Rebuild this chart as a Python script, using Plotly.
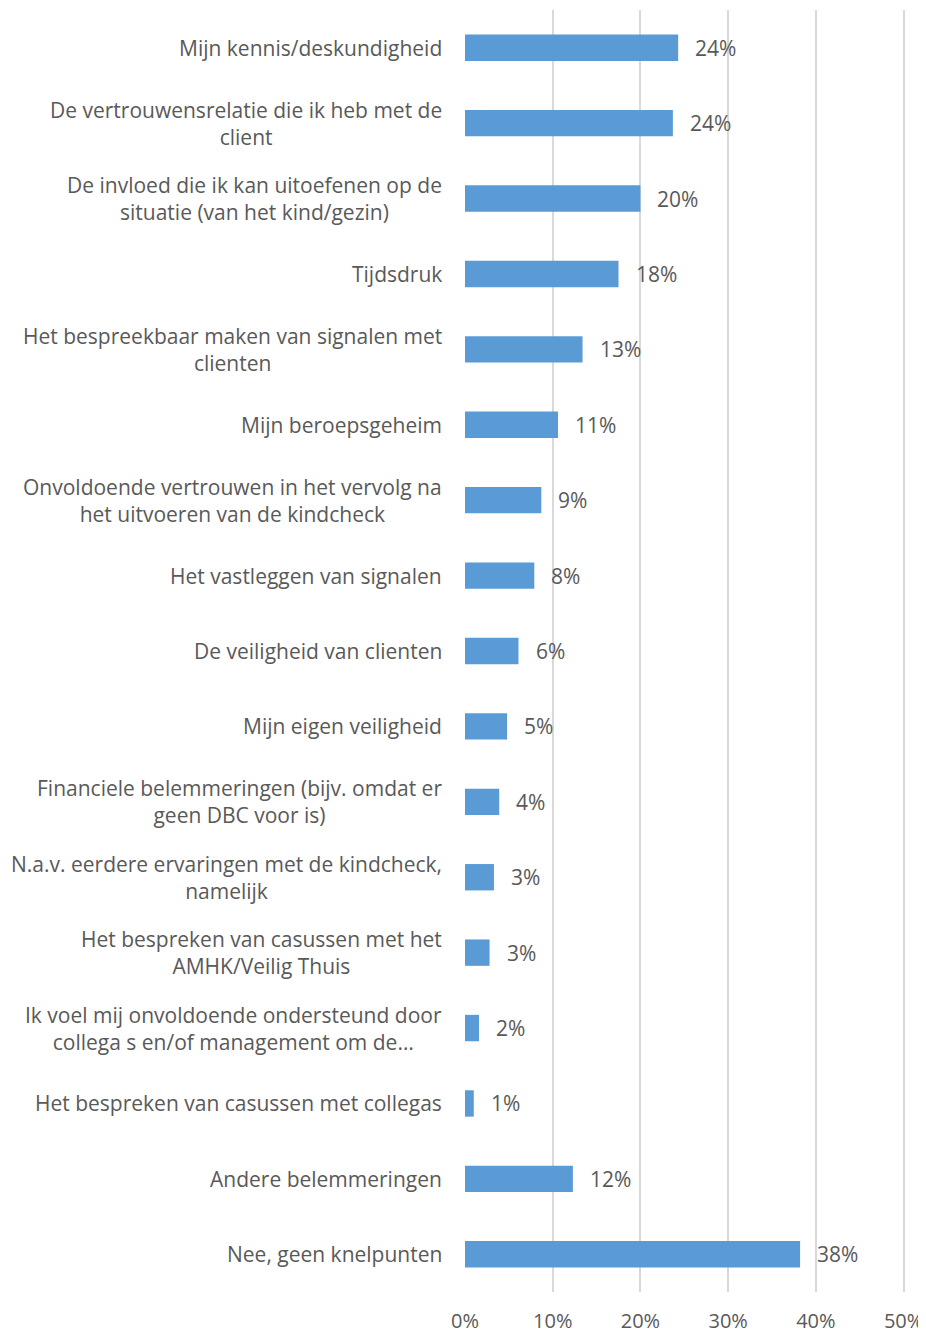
"""Knelpunten bij de kindcheck - horizontal bar chart."""

import plotly.graph_objects as go

# ---------------------------------------------------------------------------
# Data
# ---------------------------------------------------------------------------

CATEGORIES = [
    "Mijn kennis/deskundigheid",
    "De vertrouwensrelatie die ik heb met de<br>client",
    "De invloed die ik kan uitoefenen op de<br>situatie (van het kind/gezin)",
    "Tijdsdruk",
    "Het bespreekbaar maken van signalen met<br>clienten",
    "Mijn beroepsgeheim",
    "Onvoldoende vertrouwen in het vervolg na<br>het uitvoeren van de kindcheck",
    "Het vastleggen van signalen",
    "De veiligheid van clienten",
    "Mijn eigen veiligheid",
    "Financiele belemmeringen (bijv. omdat er<br>geen DBC voor is)",
    "N.a.v. eerdere ervaringen met de kindcheck,<br>namelijk",
    "Het bespreken van casussen met het<br>AMHK/Veilig Thuis",
    "Ik voel mij onvoldoende ondersteund door<br>collega s en/of management om de…",
    "Het bespreken van casussen met collegas",
    "Andere belemmeringen",
    "Nee, geen knelpunten",
]
VALUES = [24.3, 23.7, 20.0, 17.5, 13.4, 10.6, 8.7, 7.9, 6.1, 4.8,
          3.9, 3.3, 2.8, 1.6, 1.0, 12.3, 38.2]
VALUE_LABELS = ["24%", "24%", "20%", "18%", "13%", "11%", "9%", "8%", "6%",
                "5%", "4%", "3%", "3%", "2%", "1%", "12%", "38%"]
X_TICKS = [0, 10, 20, 30, 40, 50]
X_TICK_LABELS = ["0%", "10%", "20%", "30%", "40%", "50%"]

BAR_COLOR = "#5B9BD5"
TEXT_COLOR = "#595959"
GRID_COLOR = "#D9D9D9"
FONT = "Open Sans, sans-serif"
FONT_SIZE = 21

fig = go.Figure(go.Bar(
    x=VALUES,
    y=list(range(len(CATEGORIES))),
    orientation="h",
    width=0.35,
    marker=dict(color=BAR_COLOR, line=dict(width=0)),
    hoverinfo="skip",
))

# category labels: block right-aligned, lines centered
for i, cat in enumerate(CATEGORIES):
    fig.add_annotation(
        x=0, xref="paper", y=i, yref="y",
        text=cat, showarrow=False,
        xanchor="right", align="center", xshift=-21,
        font=dict(family=FONT, size=FONT_SIZE, color=TEXT_COLOR),
    )

# value labels
for i, (v, lab) in enumerate(zip(VALUES, VALUE_LABELS)):
    fig.add_annotation(
        x=v, y=i, text=lab, showarrow=False,
        xanchor="left", xshift=15,
        font=dict(family=FONT, size=FONT_SIZE, color=TEXT_COLOR),
    )

# page has an 8px body margin, so the figure is sized to fit inside it
fig.update_layout(
    width=918,
    height=1325,
    paper_bgcolor="white",
    plot_bgcolor="white",
    font=dict(family=FONT, size=FONT_SIZE, color=TEXT_COLOR),
    margin=dict(l=457, r=18, t=2, b=41),
    showlegend=False,
    xaxis=dict(
        range=[0, 50.5],
        tickvals=X_TICKS,
        ticktext=X_TICK_LABELS,
        showgrid=True,
        gridcolor=GRID_COLOR,
        gridwidth=1.5,
        zeroline=False,
        showline=False,
        automargin=False,
        ticklabeloverflow="allow",
        ticklabelstandoff=15,
        tickfont=dict(family=FONT, size=20, color=TEXT_COLOR),
    ),
    yaxis=dict(
        range=[len(CATEGORIES) - 0.5, -0.5],
        showticklabels=False,
        showgrid=False,
        zeroline=False,
    ),
)

fig.write_html("out.html")
